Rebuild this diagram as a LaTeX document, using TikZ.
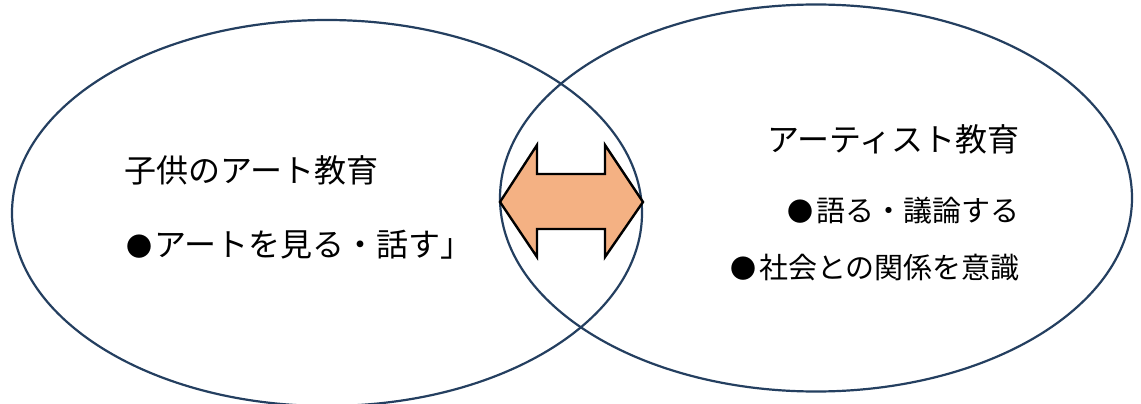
\documentclass[tikz,border=0pt]{standalone}
\usepackage{fontspec}
\usetikzlibrary{shapes.geometric}
\newfontfamily\jpfont{Noto Sans CJK JP}
\definecolor{ringcol}{HTML}{243F60}
\definecolor{arrowfill}{HTML}{F4B183}
\newcommand{\bul}{{\fontsize{26}{26}\selectfont ●}}
\tikzset{
  ring/.style={draw=ringcol, line width=2.2pt},
  bigarrow/.style={draw=black, line width=2.4pt, fill=arrowfill, line join=miter},
  head/.style={font=\jpfont\fontsize{32}{38}\selectfont, text=black, inner sep=0pt},
  lbl/.style={font=\jpfont\fontsize{32}{38}\selectfont, text=black, inner sep=0pt},
  rlbl/.style={font=\jpfont\fontsize{29}{34}\selectfont, text=black, inner sep=0pt}
}
\begin{document}
\begin{tikzpicture}[x=1pt,y=-1pt]
\useasboundingbox (0,0) rectangle (1141,404);
\fill[white] (0,0) rectangle (1141,404);
\node[ring, ellipse, minimum width=630pt, minimum height=386pt, inner sep=0pt] (left) at (327,213) {};
\node[ring, ellipse, minimum width=632pt, minimum height=387pt, inner sep=0pt] (right) at (816,198) {};
\coordinate (lt) at (500,202);
\coordinate (rt) at (643,202);
\draw[bigarrow] (lt) -- (537,145) -- (537,174) -- (605,174) -- (605,145) -- (rt)
  -- (605,257) -- (605,229) -- (537,229) -- (537,257) -- cycle;
\node[head, anchor=west] (t1) at (124,170) {子供のアート教育};
\node[lbl, anchor=west] (t2) at (126,245) {\bul\hspace{2pt}アートを見る・話す」};
\node[head, anchor=east] (t3) at (1020,139) {アーティスト教育};
\node[rlbl, anchor=east] (t4) at (1020,211) {\bul\hspace{3pt}語る・議論する};
\node[rlbl, anchor=east] (t5) at (1020,268) {\bul\hspace{3pt}社会との関係を意識};
\end{tikzpicture}
\end{document}
